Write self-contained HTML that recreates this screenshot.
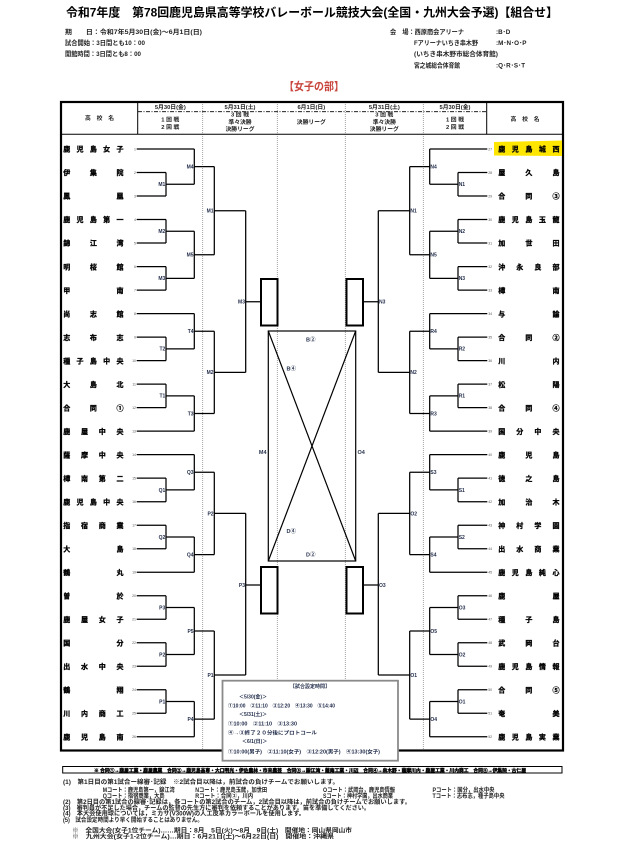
<!DOCTYPE html>
<html><head><meta charset="utf-8">
<style>
html,body{margin:0;padding:0;background:#fff;}
body{width:624px;height:857px;overflow:hidden;}
svg{display:block;}
text{font-family:"Liberation Sans","Noto Sans CJK JP",sans-serif;}
</style></head>
<body>
<svg width="624" height="857" viewBox="0 0 624 857" xmlns="http://www.w3.org/2000/svg">
<rect width="624" height="857" fill="#fff"/>

<!-- Title -->
<text x="66" y="16.3" font-size="12" font-weight="bold" textLength="492" lengthAdjust="spacingAndGlyphs">令和7年度　第78回鹿児島県高等学校バレーボール競技大会(全国・九州大会予選)【組合せ】</text>

<!-- info -->
<g font-size="6.3" font-weight="bold" fill="#222">
<text x="65" y="34.2" textLength="137" lengthAdjust="spacingAndGlyphs">期　　日：令和7年5月30日(金)～6月1日(日)</text>
<text x="65" y="45.2" textLength="80" lengthAdjust="spacingAndGlyphs">試合開始：3日間とも10：00</text>
<text x="65" y="55.8" textLength="76" lengthAdjust="spacingAndGlyphs">開館時間：3日間とも8：00</text>
<text x="390" y="34.2" textLength="74" lengthAdjust="spacingAndGlyphs">会　場：西原商会アリーナ</text>
<text x="496" y="34.2">:B･D</text>
<text x="414" y="45.2" textLength="64" lengthAdjust="spacingAndGlyphs">Fアリーナいちき串木野</text>
<text x="496" y="45.2">:M･N･O･P</text>
<text x="414" y="55.8" textLength="84" lengthAdjust="spacingAndGlyphs">(いちき串木野市総合体育館)</text>
<text x="414" y="67.5" textLength="46" lengthAdjust="spacingAndGlyphs">宮之城総合体育館</text>
<text x="496" y="67.5">:Q･R･S･T</text>
</g>

<text x="284" y="90.2" font-size="11" font-weight="bold" fill="#c8453c" textLength="60" lengthAdjust="spacingAndGlyphs">【女子の部】</text>

<!-- dotted column lines -->
<g stroke="#8a8a8a" stroke-width="0.8" stroke-dasharray="1,1">
<line x1="202.7" y1="102" x2="202.7" y2="750"/>
<line x1="277.3" y1="102" x2="277.3" y2="750"/>
<line x1="345.3" y1="102" x2="345.3" y2="750"/>
<line x1="423.3" y1="102" x2="423.3" y2="750"/>
</g>

<!-- table frame -->
<rect x="61" y="102" width="502" height="648.5" fill="none" stroke="#000" stroke-width="2.2"/>
<line x1="61" y1="134.3" x2="563" y2="134.3" stroke="#000" stroke-width="1"/>
<line x1="137.7" y1="102" x2="137.7" y2="134.3" stroke="#000" stroke-width="1"/>
<line x1="486.7" y1="102" x2="486.7" y2="134.3" stroke="#000" stroke-width="1"/>
<line x1="138" y1="111.7" x2="486.5" y2="111.7" stroke="#000" stroke-width="0.8" stroke-dasharray="4,1.5,1,1.5"/>

<!-- header text -->
<g font-size="5.8" font-weight="bold" fill="#222" text-anchor="middle">
<text x="170.3" y="108.8">5月30日(金)</text>
<text x="240" y="108.8">5月31日(土)</text>
<text x="311.3" y="108.8">6月1日(日)</text>
<text x="384.3" y="108.8">5月31日(土)</text>
<text x="455" y="108.8">5月30日(金)</text>
<text x="170.3" y="121.3">1 回 戦</text>
<text x="170.3" y="128.9">2 回 戦</text>
<text x="455" y="121.3">1 回 戦</text>
<text x="455" y="128.9">2 回 戦</text>
<text x="240" y="116.5">3 回 戦</text>
<text x="240" y="123.9">準々決勝</text>
<text x="240" y="131.2">決勝リーグ</text>
<text x="384.3" y="116.5">3 回 戦</text>
<text x="384.3" y="123.9">準々決勝</text>
<text x="384.3" y="131.2">決勝リーグ</text>
<text x="311.3" y="124">決勝リーグ</text>
<text x="99.5" y="120.2">高　校　名</text>
<text x="525" y="121.2">高　校　名</text>
</g>

<!-- highlight team 27 -->
<polygon points="494,142 562,140.5 562,156 494,155.5" fill="#ffe600"/>

<!-- left bracket lines -->
<path id="lb" fill="none" stroke="#000" stroke-width="1.25" d="
M136.7 149 H194.3 M136.7 172.5 H166 M136.7 196 H166 M136.7 219.5 H166 M136.7 243 H166 M136.7 266.6 H166 M136.7 290.1 H166
M136.7 313.6 H194.3 M136.7 337.1 H166 M136.7 360.6 H166 M136.7 384.1 H166 M136.7 407.6 H166 M136.7 431.1 H194.3
M136.7 454.6 H194.3 M136.7 478.1 H166 M136.7 501.7 H166 M136.7 525.2 H166 M136.7 548.7 H166 M136.7 572.2 H194.3
M136.7 595.7 H166 M136.7 619.2 H166 M136.7 642.7 H166 M136.7 666.2 H166 M136.7 689.7 H166 M136.7 713.2 H166 M136.7 736.8 H194.3
M166 172.5 V196 M166 184.25 H194.3
M166 219.5 V243 M166 231.25 H194.3
M166 266.6 V290.1 M166 278.35 H194.3
M166 337.1 V360.6 M166 348.85 H194.3
M166 384.1 V407.6 M166 395.85 H194.3
M166 478.1 V501.7 M166 489.9 H194.3
M166 525.2 V548.7 M166 536.95 H194.3
M166 595.7 V619.2 M166 607.45 H194.3
M166 642.7 V666.2 M166 654.45 H194.3
M166 689.7 V713.2 M166 701.45 H194.3
M194.3 149 V184.25 M194.3 166.6 H214.3
M194.3 231.25 V278.35 M194.3 254.8 H214.3
M194.3 313.6 V348.85 M194.3 331.2 H214.3
M194.3 395.85 V431.1 M194.3 413.5 H214.3
M194.3 454.6 V489.9 M194.3 472.25 H214.3
M194.3 536.95 V572.2 M194.3 554.6 H214.3
M194.3 607.45 V654.45 M194.3 630.95 H214.3
M194.3 701.45 V736.8 M194.3 719.1 H214.3
M214.3 166.6 V254.8 M214.3 210.7 H245.7
M214.3 331.2 V413.5 M214.3 372.35 H245.7
M214.3 472.25 V554.6 M214.3 513.4 H245.7
M214.3 630.95 V719.1 M214.3 675 H245.7
M245.7 210.7 V372.35 M245.7 301.7 H261
M245.7 513.4 V675 M245.7 585 H261"/>
<use href="#lb" transform="translate(624,0) scale(-1,1)"/>

<!-- boxes -->
<g fill="none" stroke="#000" stroke-width="2">
<rect x="261" y="279" width="16.5" height="46.5"/>
<rect x="346.5" y="279" width="16.5" height="46.5"/>
<rect x="261" y="567" width="16.5" height="46.5"/>
<rect x="346.5" y="567" width="16.5" height="46.5"/>
</g>

<!-- center league -->
<g fill="none" stroke="#000" stroke-width="1.2">
<rect x="268.3" y="331" width="87.4" height="230"/>
<line x1="268.3" y1="331" x2="355.7" y2="561"/>
<line x1="355.7" y1="331" x2="268.3" y2="561"/>
</g>
<g font-size="5.5" font-weight="bold" fill="#2a3550">
<text x="306" y="341.4">B②</text>
<text x="286.5" y="370.4">B④</text>
<text x="286.5" y="532.8">D④</text>
<text x="306" y="556.4">D②</text>
<text x="266.5" y="453.8" text-anchor="end">M4</text>
<text x="357.5" y="453.8">O4</text>
</g>

<!-- match labels -->
<g font-size="5" font-weight="bold" fill="#1f2a48">
<g text-anchor="end">
<text x="165.3" y="186.1">M1</text><text x="165.3" y="233.1">M2</text><text x="165.3" y="280.2">M3</text>
<text x="165.3" y="350.7">T2</text><text x="165.3" y="397.7">T1</text><text x="165.3" y="491.8">Q1</text>
<text x="165.3" y="538.8">Q2</text><text x="165.3" y="609.3">P3</text><text x="165.3" y="656.3">P2</text><text x="165.3" y="703.3">P1</text>
<text x="193.6" y="168.5">M4</text><text x="193.6" y="256.7">M5</text><text x="193.6" y="333.1">T4</text>
<text x="193.6" y="415.4">T3</text><text x="193.6" y="474.1">Q3</text><text x="193.6" y="556.5">Q4</text>
<text x="193.6" y="632.8">P5</text><text x="193.6" y="721">P4</text>
<text x="213.6" y="212.6">M1</text><text x="213.6" y="374.2">M2</text><text x="213.6" y="515.3">P2</text><text x="213.6" y="676.9">P1</text>
<text x="245" y="303.6">M3</text><text x="245" y="586.9">P3</text>
</g>
<text x="458.7" y="186.1">N1</text><text x="458.7" y="233.1">N2</text><text x="458.7" y="280.2">N3</text>
<text x="458.7" y="350.7">R2</text><text x="458.7" y="397.7">R1</text><text x="458.7" y="491.8">S1</text>
<text x="458.7" y="538.8">S2</text><text x="458.7" y="609.3">O3</text><text x="458.7" y="656.3">O2</text><text x="458.7" y="703.3">O1</text>
<text x="430.4" y="168.5">N4</text><text x="430.4" y="256.7">N5</text><text x="430.4" y="333.1">R4</text>
<text x="430.4" y="415.4">R3</text><text x="430.4" y="474.1">S3</text><text x="430.4" y="556.5">S4</text>
<text x="430.4" y="632.8">O5</text><text x="430.4" y="721">O4</text>
<text x="410.4" y="212.6">N1</text><text x="410.4" y="374.2">N2</text><text x="410.4" y="515.3">O2</text><text x="410.4" y="676.9">O1</text>
<text x="379" y="303.6">N3</text><text x="379" y="586.9">O3</text>
</g>

<!-- numbers -->
<g font-size="3.5" fill="#555">
<g text-anchor="end">
<text x="136" y="150.3">1</text><text x="136" y="173.8">2</text><text x="136" y="197.3">3</text><text x="136" y="220.8">4</text>
<text x="136" y="244.3">5</text><text x="136" y="267.9">6</text><text x="136" y="291.4">7</text><text x="136" y="314.9">8</text>
<text x="136" y="338.4">9</text><text x="136" y="361.9">10</text><text x="136" y="385.4">11</text><text x="136" y="408.9">12</text>
<text x="136" y="432.4">13</text><text x="136" y="455.9">14</text><text x="136" y="479.4">15</text><text x="136" y="503">16</text>
<text x="136" y="526.5">17</text><text x="136" y="550">18</text><text x="136" y="573.5">19</text><text x="136" y="597">20</text>
<text x="136" y="620.5">21</text><text x="136" y="644">22</text><text x="136" y="667.5">23</text><text x="136" y="691">24</text>
<text x="136" y="714.5">25</text><text x="136" y="738.1">26</text>
</g>
<text x="488.2" y="150.3">27</text><text x="488.2" y="173.8">28</text><text x="488.2" y="197.3">29</text><text x="488.2" y="220.8">30</text>
<text x="488.2" y="244.3">31</text><text x="488.2" y="267.9">32</text><text x="488.2" y="291.4">33</text><text x="488.2" y="314.9">34</text>
<text x="488.2" y="338.4">35</text><text x="488.2" y="361.9">36</text><text x="488.2" y="385.4">37</text><text x="488.2" y="408.9">38</text>
<text x="488.2" y="432.4">39</text><text x="488.2" y="455.9">40</text><text x="488.2" y="479.4">41</text><text x="488.2" y="503">42</text>
<text x="488.2" y="526.5">43</text><text x="488.2" y="550">44</text><text x="488.2" y="573.5">45</text><text x="488.2" y="597">46</text>
<text x="488.2" y="620.5">47</text><text x="488.2" y="644">48</text><text x="488.2" y="667.5">49</text><text x="488.2" y="691">50</text>
<text x="488.2" y="714.5">51</text><text x="488.2" y="738.1">52</text>
</g>

<!-- left team names -->
<g font-size="7" font-weight="bold" fill="#000" stroke="#000" stroke-width="0.3">
<text x="63.2" y="151.7" textLength="60.3" lengthAdjust="spacing">鹿児島女子</text>
<text x="63.2" y="175.2" textLength="60.3" lengthAdjust="spacing">伊集院</text>
<text x="63.2" y="198.7" textLength="60.3" lengthAdjust="spacing">鳳凰</text>
<text x="63.2" y="222.2" textLength="60.3" lengthAdjust="spacing">鹿児島第一</text>
<text x="63.2" y="245.7" textLength="60.3" lengthAdjust="spacing">錦江湾</text>
<text x="63.2" y="269.3" textLength="60.3" lengthAdjust="spacing">明桜館</text>
<text x="63.2" y="292.8" textLength="60.3" lengthAdjust="spacing">甲南</text>
<text x="63.2" y="316.3" textLength="60.3" lengthAdjust="spacing">尚志館</text>
<text x="63.2" y="339.8" textLength="60.3" lengthAdjust="spacing">志布志</text>
<text x="63.2" y="363.3" textLength="60.3" lengthAdjust="spacing">種子島中央</text>
<text x="63.2" y="386.8" textLength="60.3" lengthAdjust="spacing">大島北</text>
<text x="63.2" y="410.3" textLength="60.3" lengthAdjust="spacing">合同①</text>
<text x="63.2" y="433.8" textLength="60.3" lengthAdjust="spacing">鹿屋中央</text>
<text x="63.2" y="457.3" textLength="60.3" lengthAdjust="spacing">薩摩中央</text>
<text x="63.2" y="480.8" textLength="60.3" lengthAdjust="spacing">樟南第二</text>
<text x="63.2" y="504.4" textLength="60.3" lengthAdjust="spacing">鹿児島中央</text>
<text x="63.2" y="527.9" textLength="60.3" lengthAdjust="spacing">指宿商業</text>
<text x="63.2" y="551.4" textLength="60.3" lengthAdjust="spacing">大島</text>
<text x="63.2" y="574.9" textLength="60.3" lengthAdjust="spacing">鶴丸</text>
<text x="63.2" y="598.4" textLength="60.3" lengthAdjust="spacing">曽於</text>
<text x="63.2" y="621.9" textLength="60.3" lengthAdjust="spacing">鹿屋女子</text>
<text x="63.2" y="645.4" textLength="60.3" lengthAdjust="spacing">国分</text>
<text x="63.2" y="668.9" textLength="60.3" lengthAdjust="spacing">出水中央</text>
<text x="63.2" y="692.4" textLength="60.3" lengthAdjust="spacing">鶴翔</text>
<text x="63.2" y="715.9" textLength="60.3" lengthAdjust="spacing">川内商工</text>
<text x="63.2" y="739.5" textLength="60.3" lengthAdjust="spacing">鹿児島南</text>
</g>

<!-- right team names -->
<g font-size="7" font-weight="bold" fill="#000" stroke="#000" stroke-width="0.3">
<text x="498.2" y="151.7" textLength="61.3" lengthAdjust="spacing">鹿児島城西</text>
<text x="498.2" y="175.2" textLength="61.3" lengthAdjust="spacing">屋久島</text>
<text x="498.2" y="198.7" textLength="61.3" lengthAdjust="spacing">合同③</text>
<text x="498.2" y="222.2" textLength="61.3" lengthAdjust="spacing">鹿児島玉龍</text>
<text x="498.2" y="245.7" textLength="61.3" lengthAdjust="spacing">加世田</text>
<text x="498.2" y="269.3" textLength="61.3" lengthAdjust="spacing">沖永良部</text>
<text x="498.2" y="292.8" textLength="61.3" lengthAdjust="spacing">樟南</text>
<text x="498.2" y="316.3" textLength="61.3" lengthAdjust="spacing">与論</text>
<text x="498.2" y="339.8" textLength="61.3" lengthAdjust="spacing">合同②</text>
<text x="498.2" y="363.3" textLength="61.3" lengthAdjust="spacing">川内</text>
<text x="498.2" y="386.8" textLength="61.3" lengthAdjust="spacing">松陽</text>
<text x="498.2" y="410.3" textLength="61.3" lengthAdjust="spacing">合同④</text>
<text x="498.2" y="433.8" textLength="61.3" lengthAdjust="spacing">国分中央</text>
<text x="498.2" y="457.3" textLength="61.3" lengthAdjust="spacing">鹿児島</text>
<text x="498.2" y="480.8" textLength="61.3" lengthAdjust="spacing">徳之島</text>
<text x="498.2" y="504.4" textLength="61.3" lengthAdjust="spacing">加治木</text>
<text x="498.2" y="527.9" textLength="61.3" lengthAdjust="spacing">神村学園</text>
<text x="498.2" y="551.4" textLength="61.3" lengthAdjust="spacing">出水商業</text>
<text x="498.2" y="574.9" textLength="61.3" lengthAdjust="spacing">鹿児島純心</text>
<text x="498.2" y="598.4" textLength="61.3" lengthAdjust="spacing">鹿屋</text>
<text x="498.2" y="621.9" textLength="61.3" lengthAdjust="spacing">種子島</text>
<text x="498.2" y="645.4" textLength="61.3" lengthAdjust="spacing">武岡台</text>
<text x="498.2" y="668.9" textLength="61.3" lengthAdjust="spacing">鹿児島情報</text>
<text x="498.2" y="692.4" textLength="61.3" lengthAdjust="spacing">合同⑤</text>
<text x="498.2" y="715.9" textLength="61.3" lengthAdjust="spacing">奄美</text>
<text x="498.2" y="739.5" textLength="61.3" lengthAdjust="spacing">鹿児島実業</text>
</g>

<!-- time box -->
<rect x="222.5" y="680.7" width="175.5" height="80" fill="#fff" stroke="#8a8a8a" stroke-width="1.8"/>
<g font-size="5" font-weight="bold" fill="#1f2a48">
<text x="310" y="688.2" text-anchor="middle">【試合設定時間】</text>
<text x="239" y="698.6">＜5/30(金)＞</text>
<text x="228" y="707.6" textLength="107" lengthAdjust="spacingAndGlyphs">①10:00　②11:10　③12:20　④13:30　⑤14:40</text>
<text x="239" y="716.2">＜5/31(土)＞</text>
<text x="228" y="725.6" textLength="69" lengthAdjust="spacingAndGlyphs">①10:00　②11:10　③13:30</text>
<text x="228" y="734.6" textLength="89" lengthAdjust="spacingAndGlyphs">④→③終了２０分後にプロトコール</text>
<text x="242" y="743.2">＜6/1(日)＞</text>
<text x="228" y="753.6" textLength="152" lengthAdjust="spacingAndGlyphs">①10:00(男子)　②11:10(女子)　③12:20(男子)　④13:30(女子)</text>
</g>

<!-- bar -->
<rect x="62.7" y="766.5" width="499.3" height="6.5" fill="#fff" stroke="#000" stroke-width="1"/>
<text x="94" y="771.8" font-size="4.8" font-weight="bold" stroke="#000" stroke-width="0.35" textLength="432" lengthAdjust="spacingAndGlyphs">※ 合同①→鹿屋工業・鹿屋農業　合同②→鹿児島高専・大口明光・伊佐農林・市来農芸　合同③→錦江湾・薩南工業・川辺　合同④→串木野・薩摩川内・鹿屋工業・川内商工　合同⑤→伊集院・古仁屋</text>

<!-- notes -->
<g font-size="6" font-weight="bold" fill="#222">
<text x="63" y="784.2" textLength="276" lengthAdjust="spacingAndGlyphs">(1)　第1日目の第1試合ー線審･記録　※2試合目以降は，前試合の負けチームでお願いします。</text>
<text x="102.7" y="792" textLength="72" lengthAdjust="spacingAndGlyphs">Mコート：鹿児島第一，錦江湾</text>
<text x="195.2" y="792" textLength="72" lengthAdjust="spacingAndGlyphs">Nコート：鹿児島玉龍，加世田</text>
<text x="323" y="792" textLength="72" lengthAdjust="spacingAndGlyphs">Oコート：武岡台，鹿児島情報</text>
<text x="432.5" y="792" textLength="62" lengthAdjust="spacingAndGlyphs">Pコート：国分，出水中央</text>
<text x="102.7" y="797.8" textLength="62" lengthAdjust="spacingAndGlyphs">Qコート：指宿商業，大島</text>
<text x="195.2" y="797.8" textLength="58" lengthAdjust="spacingAndGlyphs">Rコート：合同②，川内</text>
<text x="323" y="797.8" textLength="70" lengthAdjust="spacingAndGlyphs">Sコート：神村学園，出水商業</text>
<text x="432.5" y="797.8" textLength="72" lengthAdjust="spacingAndGlyphs">Tコート：志布志，種子島中央</text>
<text x="63" y="803.9" textLength="348" lengthAdjust="spacingAndGlyphs">(2)　第2日目の第1試合の線審･記録は，各コートの第2試合のチーム，2試合目以降は，前試合の負けチームでお願いします。</text>
<text x="63" y="810" textLength="307" lengthAdjust="spacingAndGlyphs">(3)　審判員が不足した場合，チームの監督の先生方に審判を依頼することがあります。笛を準備してください。</text>
<text x="63" y="815.7" textLength="242" lengthAdjust="spacingAndGlyphs">(4)　本大会使用球については，ミカサ(V300W)の人工皮革カラーボールを使用します。</text>
<text x="63" y="821.8" textLength="140" lengthAdjust="spacingAndGlyphs">(5)　試合設定時間より早く開始することはありません。</text>
<text x="72" y="832.6" textLength="280" lengthAdjust="spacingAndGlyphs">※　全国大会(女子1位チーム)……期日：8月　5日(火)～8月　9日(土)　開催地：岡山県岡山市</text>
<text x="72" y="838.3" textLength="262" lengthAdjust="spacingAndGlyphs">※　九州大会(女子1-2位チーム)…期日：6月21日(土)～6月22日(日)　開催地：沖縄県</text>
</g>
</svg>
</body></html>
